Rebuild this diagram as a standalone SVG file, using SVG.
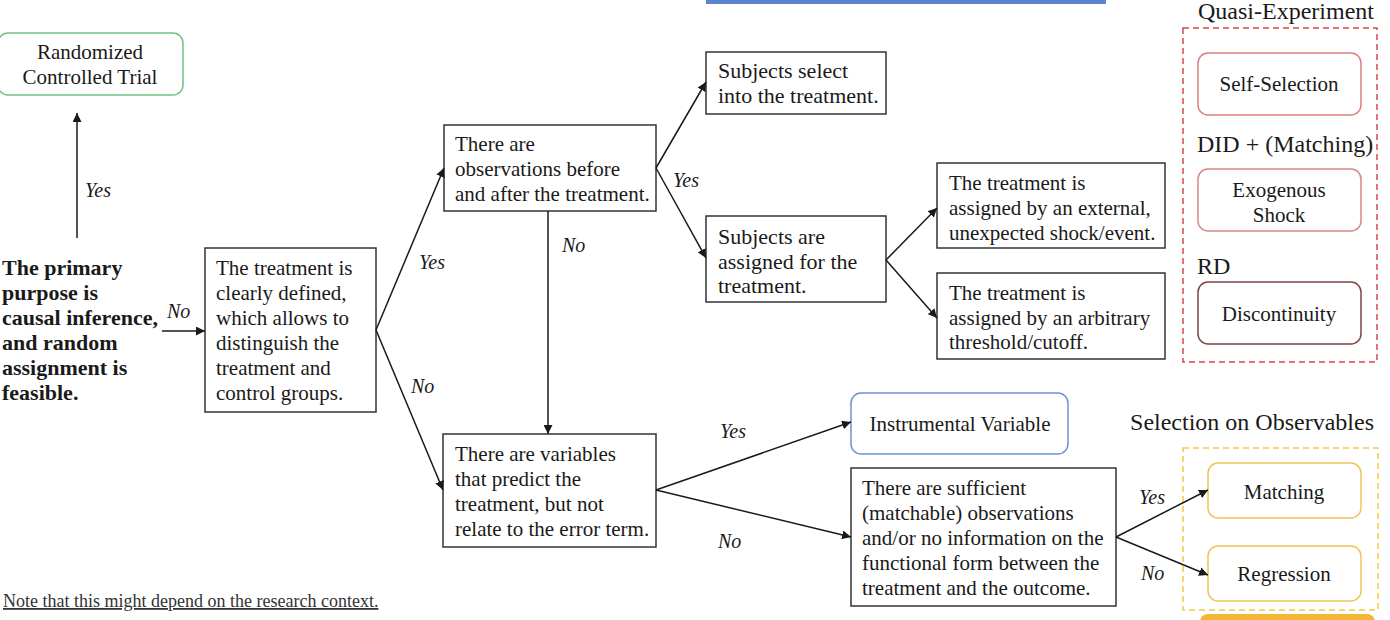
<svg xmlns="http://www.w3.org/2000/svg" width="1390" height="620" viewBox="0 0 1390 620">
<style>
  .t { font-family: "Liberation Serif", serif; font-size: 21px; fill: #1a1a1a; }
  .b { font-weight: bold; font-size: 22px; }
  .s22 { font-size: 22px; }
  .lbl { font-family: "Liberation Serif", serif; font-size: 20px; font-style: italic; fill: #1a1a1a; }
  .h { font-family: "Liberation Serif", serif; font-size: 24px; fill: #1a1a1a; }
  .c { text-anchor: middle; }
  .box { fill: #ffffff; stroke: #333333; stroke-width: 1.5; }
  .conn line { stroke: #1a1a1a; stroke-width: 1.5; marker-end: url(#ah); }
</style>
<defs>
  <marker id="ah" viewBox="0 0 10 10" refX="10" refY="5" markerWidth="9" markerHeight="9" markerUnits="userSpaceOnUse" orient="auto">
    <path d="M0,0 L10,5 L0,10 z" fill="#1a1a1a"/>
  </marker>
</defs>
<rect width="1390" height="620" fill="#ffffff"/>

<!-- top blue bar -->
<rect x="706" y="0" width="400" height="4" fill="#5a84cc"/>

<!-- RCT -->
<g id="rct">
  <rect x="-2" y="33" width="185" height="62" rx="10" fill="#fff" stroke="#72c283" stroke-width="1.5"/>
  <text class="t c" x="90" y="59">Randomized</text>
  <text class="t c" x="90" y="84">Controlled Trial</text>
</g>

<!-- Start text -->
<g id="start">
  <text class="t b" x="2" y="275">The primary</text>
  <text class="t b" x="2" y="300">purpose is</text>
  <text class="t b" x="2" y="325">causal inference,</text>
  <text class="t b" x="2" y="350">and random</text>
  <text class="t b" x="2" y="375">assignment is</text>
  <text class="t b" x="2" y="400">feasible.</text>
</g>

<g id="defined">
  <rect class="box" x="205" y="248" width="171" height="164"/>
  <text class="t" x="216" y="275">The treatment is</text>
  <text class="t" x="216" y="300">clearly defined,</text>
  <text class="t" x="216" y="325">which allows to</text>
  <text class="t" x="216" y="350">distinguish the</text>
  <text class="t" x="216" y="375">treatment and</text>
  <text class="t" x="216" y="400">control groups.</text>
</g>

<g id="beforeafter">
  <rect class="box" x="444" y="125" width="212" height="86"/>
  <text class="t" x="455" y="151">There are</text>
  <text class="t" x="455" y="176">observations before</text>
  <text class="t" x="455" y="201">and after the treatment.</text>
</g>

<g id="variables">
  <rect class="box" x="443" y="434" width="213" height="113"/>
  <text class="t" x="455" y="461">There are variables</text>
  <text class="t" x="455" y="486">that predict the</text>
  <text class="t" x="455" y="511">treatment, but not</text>
  <text class="t" x="455" y="536">relate to the error term.</text>
</g>

<g id="selfselect">
  <rect class="box" x="706" y="52" width="180" height="62"/>
  <text class="t s22" x="718" y="78">Subjects select</text>
  <text class="t s22" x="718" y="103">into the treatment.</text>
</g>

<g id="assigned">
  <rect class="box" x="706" y="216" width="180" height="86"/>
  <text class="t s22" x="718" y="244">Subjects are</text>
  <text class="t s22" x="718" y="269">assigned for the</text>
  <text class="t s22" x="718" y="293">treatment.</text>
</g>

<g id="external">
  <rect class="box" x="937" y="163" width="228" height="85"/>
  <text class="t" x="949" y="190">The treatment is</text>
  <text class="t" x="949" y="215">assigned by an external,</text>
  <text class="t" x="949" y="240">unexpected shock/event.</text>
</g>

<g id="arbitrary">
  <rect class="box" x="937" y="273" width="228" height="86"/>
  <text class="t" x="949" y="300">The treatment is</text>
  <text class="t" x="949" y="325">assigned by an arbitrary</text>
  <text class="t" x="949" y="349">threshold/cutoff.</text>
</g>

<g id="iv">
  <rect x="851" y="393" width="217" height="61" rx="10" fill="#fff" stroke="#6a93d6" stroke-width="1.5"/>
  <text class="t c" x="960" y="431">Instrumental Variable</text>
</g>

<g id="sufficient">
  <rect class="box" x="851" y="468" width="265" height="138"/>
  <text class="t" x="862" y="495">There are sufficient</text>
  <text class="t" x="862" y="520">(matchable) observations</text>
  <text class="t" x="862" y="545">and/or no information on the</text>
  <text class="t" x="862" y="570">functional form between the</text>
  <text class="t" x="862" y="595">treatment and the outcome.</text>
</g>

<!-- Quasi-Experiment group -->
<g id="quasi">
  <text class="h c" x="1286" y="19">Quasi-Experiment</text>
  <rect x="1183" y="28" width="194" height="334" fill="none" stroke="#d9464b" stroke-width="1.5" stroke-dasharray="6,4"/>
</g>
<g id="selfselection">
  <rect x="1198" y="53" width="163" height="62" rx="10" fill="#fff" stroke="#db7f7f" stroke-width="1.5"/>
  <text class="t c" x="1279" y="91">Self-Selection</text>
</g>
<g id="did">
  <text class="h" x="1197" y="152">DID + (Matching)</text>
</g>
<g id="exoshock">
  <rect x="1198" y="169" width="163" height="62" rx="10" fill="#fff" stroke="#d98686" stroke-width="1.5"/>
  <text class="t c" x="1279" y="197">Exogenous</text>
  <text class="t c" x="1279" y="222">Shock</text>
</g>
<g id="rd">
  <text class="h" x="1197" y="274">RD</text>
</g>
<g id="discontinuity">
  <rect x="1198" y="282" width="163" height="62" rx="10" fill="#fff" stroke="#7d4444" stroke-width="1.5"/>
  <text class="t c" x="1279" y="321">Discontinuity</text>
</g>

<!-- Selection on Observables group -->
<g id="soo">
  <text class="h c" x="1252" y="430">Selection on Observables</text>
  <rect x="1183" y="448" width="195" height="162" fill="none" stroke="#f5c842" stroke-width="1.5" stroke-dasharray="6,4"/>
  <rect x="1200" y="614" width="175" height="20" rx="8" fill="#f5b733"/>
</g>
<g id="matching">
  <rect x="1208" y="463" width="153" height="55" rx="10" fill="#fff" stroke="#f0c35a" stroke-width="1.5"/>
  <text class="t c" x="1284" y="499">Matching</text>
</g>
<g id="regression">
  <rect x="1208" y="546" width="153" height="55" rx="10" fill="#fff" stroke="#f0c35a" stroke-width="1.5"/>
  <text class="t c" x="1284" y="581">Regression</text>
</g>

<!-- Note -->
<g id="note">
  <text x="3" y="607" font-family="Liberation Serif, serif" font-size="18" fill="#333" text-decoration="underline">Note that this might depend on the research context.</text>
</g>

<!-- Connectors -->
<g id="connectors" class="conn">
  <line x1="77" y1="238" x2="77" y2="113"/>
  <line x1="162" y1="331" x2="205" y2="331"/>
  <line x1="376" y1="330" x2="444" y2="168"/>
  <line x1="376" y1="330" x2="443" y2="490"/>
  <line x1="548" y1="211" x2="548" y2="434"/>
  <line x1="656" y1="168" x2="706" y2="82"/>
  <line x1="656" y1="168" x2="706" y2="258"/>
  <line x1="886" y1="260" x2="937" y2="208"/>
  <line x1="886" y1="260" x2="937" y2="318"/>
  <line x1="656" y1="490" x2="851" y2="422"/>
  <line x1="656" y1="490" x2="851" y2="537"/>
  <line x1="1116" y1="537" x2="1208" y2="490"/>
  <line x1="1116" y1="537" x2="1208" y2="575"/>
</g>

<!-- Connector labels -->
<g id="labels">
  <text class="lbl" x="85" y="197">Yes</text>
  <text class="lbl" x="167" y="318">No</text>
  <text class="lbl" x="419" y="269">Yes</text>
  <text class="lbl" x="411" y="393">No</text>
  <text class="lbl" x="562" y="252">No</text>
  <text class="lbl" x="673" y="187">Yes</text>
  <text class="lbl" x="720" y="438">Yes</text>
  <text class="lbl" x="718" y="548">No</text>
  <text class="lbl" x="1139" y="504">Yes</text>
  <text class="lbl" x="1141" y="580">No</text>
</g>
</svg>
